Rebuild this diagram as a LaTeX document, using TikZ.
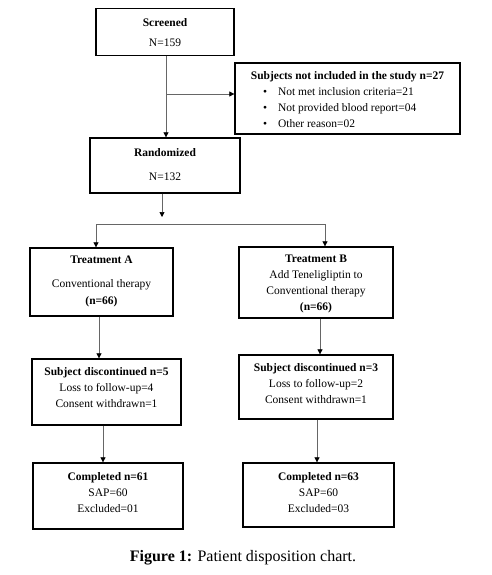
\documentclass[tikz,border=0pt]{standalone}
\usepackage{fontspec}
\setmainfont{Liberation Serif}
\usetikzlibrary{arrows.meta}
\begin{document}
\begin{tikzpicture}[x=1pt,y=-1pt,
  box/.style={draw=black,line width=1.3pt,inner sep=0pt},
  txt/.style={align=center,font=\fontsize{11.5}{16}\selectfont,inner sep=0pt},
  conn/.style={draw=black!60,line width=0.7pt},
  arr/.style={conn,-{Triangle[length=5pt,width=5pt,color=black]}}]
\useasboundingbox[fill=white] (0,0) rectangle (492,575);
% boxes
\node[box,minimum width=138pt,minimum height=47pt] (scr) at (165,32) {};
\node[box,minimum width=225pt,minimum height=71pt] (excl) at (347.5,98.5) {};
\node[box,minimum width=150pt,minimum height=55pt] (rand) at (165,165.5) {};
\node[box,minimum width=143pt,minimum height=68pt] (trA) at (101.5,282) {};
\node[box,minimum width=154pt,minimum height=71pt] (trB) at (316,282.5) {};
\node[box,minimum width=149pt,minimum height=66pt] (dA) at (106.5,392) {};
\node[box,minimum width=154pt,minimum height=64pt] (dB) at (316,387) {};
\node[box,minimum width=150pt,minimum height=66pt] (cA) at (108,496) {};
\node[box,minimum width=151pt,minimum height=64pt] (cB) at (318.5,495) {};
% texts
\node[txt] (scrT) at (165,33) {\textbf{Screened}\\[4pt]N=159};
\node[txt] (exclT) at (347.5,99.5) {\textbf{Subjects not included in the study n=27}\\
  \makebox[225pt][l]{\hspace{28pt}\textbullet\hspace{11pt}Not met inclusion criteria=21}\\
  \makebox[225pt][l]{\hspace{28pt}\textbullet\hspace{11pt}Not provided blood report=04}\\
  \makebox[225pt][l]{\hspace{28pt}\textbullet\hspace{11pt}Other reason=02}};
\node[txt] (randT) at (165,165) {\textbf{Randomized}\\[8pt]N=132};
\node[txt] (trAT) at (101.5,281.5) {\textbf{Treatment A}\\[8pt]Conventional therapy\\[1pt]\textbf{(n=66)}};
\node[txt] (trBT) at (316,283.5) {\textbf{Treatment B}\\Add Teneligliptin to\\Conventional therapy\\\textbf{(n=66)}};
\node[txt] (dAT) at (106.5,387.5) {\textbf{Subject discontinued n=5}\\Loss to follow-up=4\\Consent withdrawn=1};
\node[txt] (dBT) at (316,383.5) {\textbf{Subject discontinued n=3}\\Loss to follow-up=2\\Consent withdrawn=1};
\node[txt] (cAT) at (108,493) {\textbf{Completed n=61}\\SAP=60\\Excluded=01};
\node[txt] (cBT) at (318.5,493) {\textbf{Completed n=63}\\SAP=60\\Excluded=03};
\node[inner sep=0pt] (cap) at (243,558) {\fontsize{16}{18}\selectfont\textbf{Figure 1:} Patient disposition chart.};
% connectors
\coordinate (j1) at (166,94);
\draw[arr] (scr.south -| j1) -- (rand.north -| j1);
\draw[arr] (j1) -- (excl.west |- j1);
\coordinate (r1) at (162,217);
\draw[arr] (rand.south -| r1) -- (r1);
\coordinate (hl) at (96,224);
\coordinate (hr) at (325,224);
\draw[conn] (hl) -- (hr);
\draw[arr] (hl) -- (trA.north -| hl);
\draw[arr] (hr) -- (trB.north -| hr);
\coordinate (a1) at (99,340);
\draw[arr] (trA.south -| a1) -- (dA.north -| a1);
\coordinate (a2) at (103,445);
\draw[arr] (dA.south -| a2) -- (cA.north -| a2);
\coordinate (b1) at (320,340);
\draw[arr] (trB.south -| b1) -- (dB.north -| b1);
\coordinate (b2) at (317,445);
\draw[arr] (dB.south -| b2) -- (cB.north -| b2);
\end{tikzpicture}
\end{document}
